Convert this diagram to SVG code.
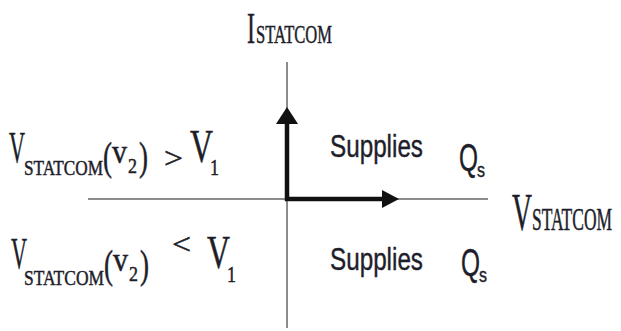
<svg xmlns="http://www.w3.org/2000/svg" width="621" height="331" viewBox="0 0 621 331">
<style>
.s{font-family:"Liberation Serif",serif;fill:#1e1e2a;stroke:#1e1e2a;stroke-width:0.5}
.c{font-family:"Liberation Sans",Arial,sans-serif;fill:#1e1e2a;stroke:#1e1e2a;stroke-width:0.4}
.ax{stroke:#8c8c8c;stroke-width:2;fill:none}
.th{stroke:#111;stroke-width:4.5;fill:none}
</style>
<rect width="621" height="331" fill="#fff"/>
<g id="connectors">
<line class="ax" x1="287" y1="62" x2="287" y2="328"/>
<line class="ax" x1="88" y1="199" x2="488" y2="199"/>
<polyline class="th" points="287,124 287,199 384,199"/>
<polygon points="287,107 276,124 298,124" fill="#111"/>
<polygon points="399,199 382,190 382,208" fill="#111"/>
</g>
<g id="label-istatcom">
<text class="s" x="247" y="43" font-size="44" textLength="8" lengthAdjust="spacingAndGlyphs">I</text>
<text class="s" x="256" y="43" font-size="26" textLength="76" lengthAdjust="spacingAndGlyphs">STATCOM</text>
</g>
<g id="label-vstatcom">
<text class="s" x="512" y="230" font-size="52" textLength="20" lengthAdjust="spacingAndGlyphs">V</text>
<text class="s" x="532" y="230" font-size="32" textLength="80" lengthAdjust="spacingAndGlyphs">STATCOM</text>
</g>
<g id="upper-condition">
<text class="s" x="9" y="162" font-size="44" textLength="16" lengthAdjust="spacingAndGlyphs">V</text>
<text class="s" x="24" y="175" font-size="22" textLength="79" lengthAdjust="spacingAndGlyphs">STATCOM</text>
<text class="s" x="103" y="170" font-size="40" textLength="9" lengthAdjust="spacingAndGlyphs">(</text>
<text class="s" x="112" y="163" font-size="34" textLength="15" lengthAdjust="spacingAndGlyphs">v</text>
<text class="s" x="128" y="173" font-size="22" textLength="9" lengthAdjust="spacingAndGlyphs">2</text>
<text class="s" x="139" y="170" font-size="40" textLength="9" lengthAdjust="spacingAndGlyphs">)</text>
<text class="s" x="164" y="168" font-size="30" textLength="19" lengthAdjust="spacingAndGlyphs">&gt;</text>
<text class="s" x="190" y="162" font-size="46" textLength="23" lengthAdjust="spacingAndGlyphs">V</text>
<text class="s" x="210" y="175" font-size="24" textLength="9" lengthAdjust="spacingAndGlyphs">1</text>
</g>
<g id="lower-condition">
<text class="s" x="11" y="268" font-size="44" textLength="16" lengthAdjust="spacingAndGlyphs">V</text>
<text class="s" x="24" y="285" font-size="22" textLength="80" lengthAdjust="spacingAndGlyphs">STATCOM</text>
<text class="s" x="104" y="278" font-size="40" textLength="9" lengthAdjust="spacingAndGlyphs">(</text>
<text class="s" x="113" y="271" font-size="34" textLength="15" lengthAdjust="spacingAndGlyphs">v</text>
<text class="s" x="129" y="281" font-size="22" textLength="9" lengthAdjust="spacingAndGlyphs">2</text>
<text class="s" x="140" y="278" font-size="40" textLength="9" lengthAdjust="spacingAndGlyphs">)</text>
<text class="s" x="172" y="254" font-size="30" textLength="19" lengthAdjust="spacingAndGlyphs">&lt;</text>
<text class="s" x="207" y="268" font-size="46" textLength="23" lengthAdjust="spacingAndGlyphs">V</text>
<text class="s" x="227" y="282" font-size="24" textLength="9" lengthAdjust="spacingAndGlyphs">1</text>
</g>
<g id="upper-supplies">
<text class="c" x="330" y="157" font-size="31" textLength="93" lengthAdjust="spacingAndGlyphs">Supplies</text>
<text class="c" x="459" y="171" font-size="38" textLength="19" lengthAdjust="spacingAndGlyphs">Q</text>
<text class="c" x="477" y="177" font-size="20" textLength="8" lengthAdjust="spacingAndGlyphs">s</text>
</g>
<g id="lower-supplies">
<text class="c" x="330" y="270" font-size="31" textLength="93" lengthAdjust="spacingAndGlyphs">Supplies</text>
<text class="c" x="461" y="276" font-size="38" textLength="19" lengthAdjust="spacingAndGlyphs">Q</text>
<text class="c" x="479" y="282" font-size="20" textLength="8" lengthAdjust="spacingAndGlyphs">s</text>
</g>
</svg>
